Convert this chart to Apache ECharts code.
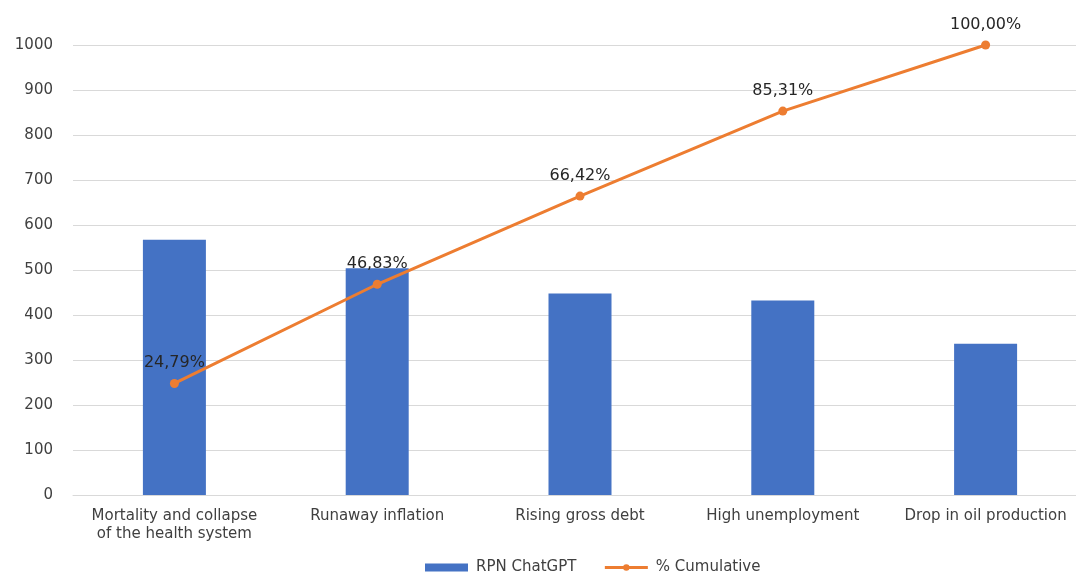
<!DOCTYPE html>
<html>
<head>
<meta charset="utf-8">
<script src="https://cdn.jsdelivr.net/npm/echarts@6/dist/echarts.min.js"></script>
<style>
html,body{margin:0;padding:0;background:#fff;}
#c{width:1076px;height:572px;}
</style>
</head>
<body>
<div id="c"></div>
<script>
const categories = ["Mortality and collapse\nof the health system", "Runaway inflation", "Rising gross debt", "High unemployment", "Drop in oil production"];
const rpnValues = [567, 504, 448, 432, 336];
const cumulativePct = [24.79, 46.83, 66.42, 85.31, 100.00];
const yTicks = [0, 100, 200, 300, 400, 500, 600, 700, 800, 900, 1000];

const font = "'DejaVu Sans', sans-serif";
const chart = echarts.init(document.getElementById('c'));
chart.setOption({
  animation: false,
  backgroundColor: '#fff',
  textStyle: { fontFamily: font },
  grid: { left: 73, top: 45, width: 1014, height: 450, containLabel: false, outerBoundsMode: 'none' },
  legend: {
    top: 555,
    left: 420,
    itemGap: 27,
    itemWidth: 43,
    itemHeight: 8,
    textStyle: { fontFamily: font, fontSize: 15, color: '#404040', padding: [0, 0, 0, 3] },
    data: [
      { name: 'RPN ChatGPT', icon: 'rect' },
      { name: '% Cumulative', lineStyle: { width: 3 }, itemStyle: { color: '#ED7D31' } }
    ]
  },
  xAxis: {
    type: 'category',
    data: categories,
    axisLine: { lineStyle: { color: '#d9d9d9' } },
    axisTick: { show: false },
    axisLabel: { interval: 0, fontFamily: font, fontSize: 15, color: '#404040', lineHeight: 18, margin: 12 }
  },
  yAxis: {
    type: 'value',
    min: 0, max: 1000, interval: 100,
    axisLine: { show: false },
    axisTick: { show: false },
    splitLine: { lineStyle: { color: '#d9d9d9' } },
    axisLabel: { fontFamily: font, fontSize: 15, color: '#404040', margin: 20,
      formatter: v => yTicks.includes(v) ? String(v) : '' }
  },
  series: [
    {
      name: 'RPN ChatGPT',
      type: 'bar',
      data: rpnValues,
      barWidth: 63,
      itemStyle: { color: '#4472C4' }
    },
    {
      name: '% Cumulative',
      type: 'line',
      data: cumulativePct.map(v => v * 10),
      symbol: 'circle',
      symbolSize: 9,
      lineStyle: { color: '#ED7D31', width: 3 },
      itemStyle: { color: '#ED7D31' },
      label: {
        show: true,
        position: 'top',
        distance: 8,
        fontFamily: font,
        fontSize: 16,
        color: '#262626',
        formatter: p => cumulativePct[p.dataIndex].toFixed(2).replace('.', ',') + '%'
      },
      z: 5
    }
  ]
});
</script>
</body>
</html>
